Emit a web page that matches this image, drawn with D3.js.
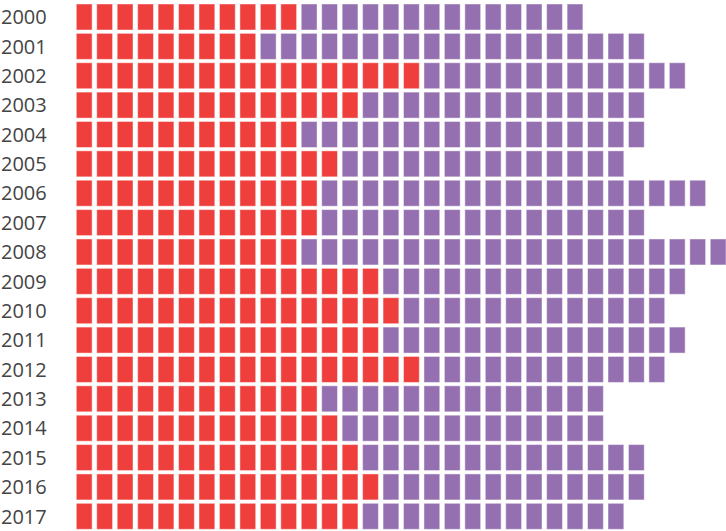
<!DOCTYPE html>
<html>
<head>
<meta charset="utf-8">
<script src="https://cdn.jsdelivr.net/npm/d3@7"></script>
<style>
  body { margin: 0; background: #fff; }
  text { font-family: "Open Sans", sans-serif; }
</style>
</head>
<body>
<div id="chart"></div>
<script>
// years down the side, one row each
const years = ["2000","2001","2002","2003","2004","2005","2006","2007","2008",
               "2009","2010","2011","2012","2013","2014","2015","2016","2017"];
// number of red squares per year
const redCounts = [11, 9, 17, 14, 11, 13, 12, 12, 11, 15, 16, 15, 17, 12, 13, 14, 15, 14];
// number of purple squares per year
const purpleCounts = [14, 19, 13, 14, 17, 14, 19, 16, 21, 15, 13, 15, 12, 14, 13, 14, 13, 13];

const colors = {red: "#ef3f3c", purple: "#9570b0"};

const width = 726, height = 531;

const svg = d3.select("#chart")
    .append("svg")
    .attr("width", width)
    .attr("height", height);

// rows
const y = d3.scaleBand()
    .domain(years)
    .range([4, 529.3])
    .paddingInner(0.115)
    .paddingOuter(0);

// columns (one unit = one square)
const x = d3.scaleLinear()
    .domain([0, 32])
    .range([76.3, 76.3 + 20.45 * 32]);

const cellW = 15.8;

// build the cells
let cells = [];
years.forEach((yr, i) => {
    for (let k = 0; k < redCounts[i]; k++) cells.push({year: yr, col: k, type: "red"});
    for (let k = 0; k < purpleCounts[i]; k++) cells.push({year: yr, col: redCounts[i] + k, type: "purple"});
});

svg.append("g")
    .selectAll("rect")
    .data(cells)
    .join("rect")
    .attr("x", d => x(d.col))
    .attr("y", d => y(d.year))
    .attr("width", cellW)
    .attr("height", y.bandwidth())
    .attr("fill", d => colors[d.type])
    .attr("stroke", "#fff")
    .attr("stroke-opacity", 0.45)
    .attr("stroke-width", 1);

// year labels
svg.append("g")
    .selectAll("text")
    .data(years)
    .join("text")
    .attr("x", 1)
    .attr("y", d => y(d) + y.bandwidth() / 2)
    .attr("dy", "0.36em")
    .attr("font-size", 20)
    .attr("fill", "#444")
    .text(d => d);
</script>
</body>
</html>
